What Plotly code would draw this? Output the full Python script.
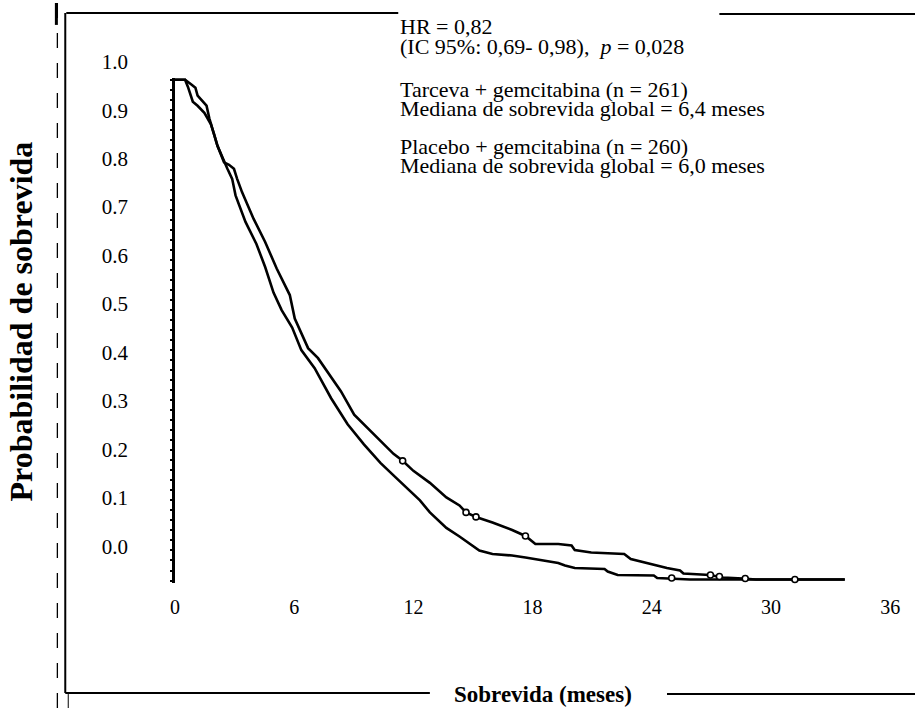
import plotly.graph_objects as go

# ---------------- data ----------------
tarceva_t = [0, 0.51, 0.65, 0.76, 0.90, 1.14, 1.48, 1.64, 1.81, 1.97, 2.14, 2.30, 2.47,
             2.72, 2.97, 3.13, 3.38, 3.96, 4.54, 5.12, 5.78, 6.03, 6.70, 7.20, 8.35, 9.02,
             10.01, 10.34, 11.00, 11.46, 12.00, 12.83, 13.66, 14.32, 14.65, 15.15, 15.98,
             16.97, 17.64, 18.14, 19.29, 19.96, 20.12, 20.95, 22.61, 22.94, 23.61, 24.27,
             24.76, 25.42, 25.59, 26.92, 27.58, 28.58, 29.24, 33.71]
tarceva_s = [1.0, 1.0, 0.986, 0.973, 0.956, 0.948, 0.934, 0.923, 0.911, 0.891, 0.868, 0.852, 0.835,
             0.830, 0.822, 0.802, 0.775, 0.722, 0.676, 0.623, 0.570, 0.523, 0.464, 0.444, 0.378, 0.331,
             0.292, 0.280, 0.253, 0.239, 0.219, 0.195, 0.166, 0.150, 0.136, 0.127, 0.116,
             0.101, 0.089, 0.073, 0.073, 0.070, 0.061, 0.056, 0.053, 0.043, 0.036, 0.029,
             0.025, 0.020, 0.014, 0.011, 0.006, 0.004, 0.002, 0.002]

placebo_t = [0, 0.51, 0.81, 1.03, 1.14, 1.39, 1.59, 1.73, 1.81, 1.97, 2.14, 2.30, 2.47,
             2.64, 2.88, 3.05, 3.55, 4.10, 4.54, 4.96, 5.37, 5.90, 6.36, 7.03, 7.86, 8.69,
             9.51, 10.34, 11.00, 11.67, 12.33, 12.83, 13.66, 14.32, 15.32, 15.98, 16.97,
             17.64, 18.63, 19.29, 19.63, 20.12, 21.62, 21.78, 22.28, 24.10, 24.27, 25.59,
             25.92, 33.71]
placebo_s = [1.0, 1.0, 0.991, 0.984, 0.968, 0.958, 0.948, 0.923, 0.911, 0.891, 0.868, 0.852, 0.835,
             0.822, 0.802, 0.769, 0.716, 0.672, 0.626, 0.575, 0.540, 0.505, 0.460, 0.424, 0.364, 0.312,
             0.272, 0.235, 0.210, 0.185, 0.160, 0.136, 0.105, 0.088, 0.060, 0.053, 0.050,
             0.046, 0.040, 0.035, 0.030, 0.025, 0.023, 0.018, 0.011, 0.010, 0.005, 0.003,
             0.002, 0.002]

tarceva_cens_t = [11.46, 14.65, 15.15, 17.64, 26.95, 27.40, 28.70, 31.20]
tarceva_cens_s = [0.239, 0.136, 0.127, 0.089, 0.011, 0.008, 0.004, 0.002]
placebo_cens_t = [25.0]
placebo_cens_s = [0.005]

x_tickvals = [0, 6, 12, 18, 24, 30, 36]
x_ticktext = ["0", "6", "12", "18", "24", "30", "36"]
y_tickvals = [0.0, 0.1, 0.2, 0.3, 0.4, 0.5, 0.6, 0.7, 0.8, 0.9, 1.0]
y_ticktext = ["0.0", "0.1", "0.2", "0.3", "0.4", "0.5", "0.6", "0.7", "0.8", "0.9", "1.0"]

stats_lines = ["HR = 0,82",
               "(IC 95%: 0,69- 0,98),  <i>p</i> = 0,028",
               "Tarceva + gemcitabina (n = 261)",
               "Mediana de sobrevida global = 6,4 meses",
               "Placebo + gemcitabina (n = 260)",
               "Mediana de sobrevida global = 6,0 meses"]
x_title = "Sobrevida (meses)"
y_title = "Probabilidad de sobrevida"

# ---------------- layout helpers ----------------
W, H = 921, 708
SERIF = "Liberation Serif, Times New Roman, serif"


def px(x):
    return x / W


def py(y):
    return 1 - y / H


fig = go.Figure()

curve_line = dict(color="black", width=2.6)
fig.add_trace(go.Scatter(x=tarceva_t, y=tarceva_s, mode="lines", line=curve_line,
                         name="Tarceva + gemcitabina", showlegend=False))
fig.add_trace(go.Scatter(x=placebo_t, y=placebo_s, mode="lines", line=curve_line,
                         name="Placebo + gemcitabina", showlegend=False))
cens_marker = dict(symbol="circle", size=6, color="white", line=dict(color="black", width=1.6))
fig.add_trace(go.Scatter(x=tarceva_cens_t, y=tarceva_cens_s, mode="markers",
                         marker=cens_marker, showlegend=False, cliponaxis=False))
fig.add_trace(go.Scatter(x=placebo_cens_t, y=placebo_cens_s, mode="markers",
                         marker=cens_marker, showlegend=False, cliponaxis=False))
# dummy trace carrying the label axis
fig.add_trace(go.Scatter(x=[None], y=[None], yaxis="y2", showlegend=False, hoverinfo="skip"))

fig.update_layout(
    width=W, height=H,
    margin=dict(l=0, r=0, t=0, b=0),
    paper_bgcolor="white", plot_bgcolor="rgba(0,0,0,0)",
    showlegend=False,
    xaxis=dict(domain=[px(172), px(900)], range=[0, 36.2], anchor="y",
               tickvals=x_tickvals, ticktext=x_ticktext,
               tickfont=dict(family=SERIF, size=20, color="black"),
               showline=False, showgrid=False, zeroline=False, ticks="",
               ticklabelstandoff=10),
    yaxis=dict(domain=[py(582), py(75)], range=[-0.004, 1.004], anchor="x",
               showticklabels=False, showgrid=False, zeroline=False,
               ticks="outside", tickmode="linear", tick0=0, dtick=0.02,
               ticklen=2, tickwidth=1.5, tickcolor="black",
               showline=True, linecolor="black", linewidth=2.6),
    yaxis2=dict(domain=[py(586), py(50)], range=[-0.0832, 1.0185], anchor="x",
                side="left", tickvals=y_tickvals, ticktext=y_ticktext,
                tickfont=dict(family=SERIF, size=21, color="black"),
                showline=False, showgrid=False, zeroline=False, ticks="",
                ticklabelstandoff=46),
)

# statistics text block
line_y = [24, 44, 87, 106, 144, 163]
for txt, yy in zip(stats_lines, line_y):
    fig.add_annotation(text=txt, x=px(398), y=py(yy), xref="paper", yref="paper",
                       xanchor="left", yanchor="middle", showarrow=False,
                       font=dict(family=SERIF, size=22, color="black"))

# axis titles
fig.add_annotation(text="<b>" + x_title + "</b>", x=px(544), y=py(694), xref="paper", yref="paper",
                   xanchor="center", yanchor="middle", showarrow=False,
                   font=dict(family=SERIF, size=23, color="black"), bgcolor="white")
fig.add_annotation(text="<b>" + y_title + "</b>", x=px(16), y=py(320), xref="paper", yref="paper",
                   xanchor="center", yanchor="middle", showarrow=False, textangle=-90,
                   font=dict(family=SERIF, size=32, color="black"))

# scanned frame around the figure
frame = dict(color="black", width=2)
segments = [((62, 10), (398, 10)), ((723, 11), (921, 11)),
            ((61, 10), (61, 693)),
            ((61, 693), (430, 693)), ((670, 694), (921, 694))]
for (x0, y0), (x1, y1) in segments:
    fig.add_shape(type="line", xref="paper", yref="paper",
                  x0=px(x0), y0=py(y0), x1=px(x1), y1=py(y1), line=frame)
fig.add_shape(type="line", xref="paper", yref="paper", x0=px(53), y0=py(0), x1=px(53), y1=py(708),
              line=dict(color="black", width=1.3, dash="longdash"))
fig.add_shape(type="line", xref="paper", yref="paper", x0=px(52), y0=py(0), x1=px(52), y1=py(22),
              line=dict(color="black", width=3))
fig.add_shape(type="line", xref="paper", yref="paper", x0=px(64), y0=py(694), x1=px(64), y1=py(708),
              line=dict(color="black", width=1))

fig.write_html("out.html", config={"displayModeBar": False},
               post_script="document.body.style.margin='0';")
